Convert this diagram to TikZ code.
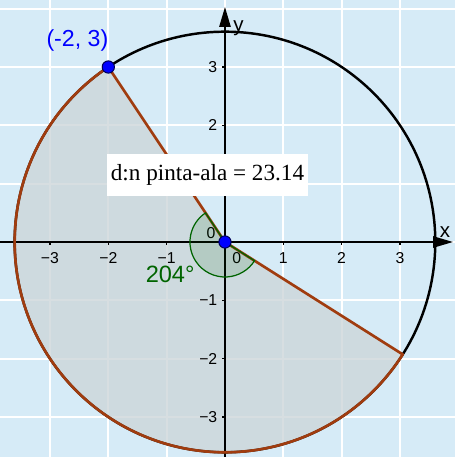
\documentclass[tikz,border=0pt]{standalone}
\usepackage{fontspec}
\setmainfont{Liberation Serif}
\setsansfont{Liberation Sans}
\usetikzlibrary{arrows.meta}
\definecolor{gridBg}{HTML}{D6EBF7}
\definecolor{secFill}{HTML}{CDD6DA}
\definecolor{secLine}{HTML}{A03C0F}
\definecolor{angGreen}{HTML}{006400}
\definecolor{ptBlue}{HTML}{0000FF}

\begin{document}
\begin{tikzpicture}[
  gridline/.style={white, line width=1pt},
  axis/.style={black, line width=1pt, -{Triangle[length=3.4mm, width=1.9mm]}},
  tickmark/.style={black, line width=0.6pt},
  ticklbl/.style={font=\sffamily\fontsize{7.7}{9}\selectfont, inner sep=1pt},
  axlbl/.style={font=\sffamily\fontsize{10}{12}\selectfont, inner sep=0pt},
  ptdot/.style={circle, fill=ptBlue, draw=ptBlue!35!black, line width=0.5pt,
                minimum size=2.1mm, inner sep=0pt},
  ptlbl/.style={font=\sffamily\fontsize{11.3}{13}\selectfont, color=ptBlue, inner sep=0pt},
  sector/.style={draw=secLine, line width=1.3pt, line join=round},
  angmark/.style={draw=angGreen, line width=0.6pt, fill=angGreen, fill opacity=0.12},
  areabox/.style={fill=white, inner sep=0pt, minimum width=3.45cm, minimum height=0.72cm,
                  font=\fontsize{11.3}{13}\selectfont},
]
  % background and grid
  \fill[gridBg] (-3.857,-3.686) rectangle (3.943,4.149);
  \useasboundingbox (-3.857,-3.686) rectangle (3.943,4.149);
  \foreach \k in {-3,...,3} \draw[gridline] (\k,-3.686) -- (\k,4.149);
  \foreach \k in {-3,...,4} \draw[gridline] (-3.857,\k) -- (3.943,\k);

  \coordinate (O) at (0,0);
  \coordinate (A) at (-2,3);
  \coordinate (B) at (327.69:3.6056);

  % sector fill
  \fill[secFill, fill opacity=0.8] (O) -- (A)
    arc[start angle=123.69, end angle=327.69, radius=3.6056] -- cycle;

  % axes
  \coordinate (xL) at (-3.857,0);
  \coordinate (xR) at (3.91,0);
  \coordinate (yB) at (0,-3.686);
  \coordinate (yT) at (0,4.03);
  \draw[axis] (xL) -- (xR);
  \draw[axis] (yB) -- (yT);
  \node[axlbl] (xlab) at (3.77,0.17) {x};
  \node[axlbl] (ylab) at (0.23,3.67) {y};

  \foreach \k/\t in {-3/−3,-2/−2,-1/−1,1/1,2/2,3/3} {
    \draw[tickmark] (\k,0) -- (\k,-0.05);
    \node[ticklbl] (xt\k) at (\k,-0.27) {\t};
    \draw[tickmark] (0,\k) -- (-0.05,\k);
  }
  \foreach \k/\t in {-3/−3,-2/−2,-1/−1,2/2,3/3}
    \node[ticklbl, anchor=east] (yt\k) at (-0.09,\k) {\t};
  \node[ticklbl] (zeroA) at (-0.24,0.155) {0};
  \node[ticklbl] (zeroB) at (0.2,-0.27) {0};

  % circle and sector outline
  \draw[black, line width=1.2pt] (O) circle[radius=3.6056];
  \draw[sector] (O) -- (A)
    arc[start angle=123.69, end angle=327.69, radius=3.6056] -- cycle;

  % angle mark
  \draw[angmark] (O) -- ++(123.69:0.6)
    arc[start angle=123.69, end angle=327.69, radius=0.6] -- cycle;
  \node[font=\sffamily\fontsize{11.5}{13}\selectfont, color=angGreen, inner sep=0pt]
    (anglbl) at (-0.94,-0.55) {204°};

  % points
  \node[ptdot] (pA) at (A) {};
  \node[ptdot] (pO) at (O) {};
  \node[ptlbl] (lblA) at (-2.53,3.46) {(-2, 3)};

  \node[areabox] (area) at (-0.3,1.15) {d:n pinta-ala = 23.14};
\end{tikzpicture}
\end{document}
